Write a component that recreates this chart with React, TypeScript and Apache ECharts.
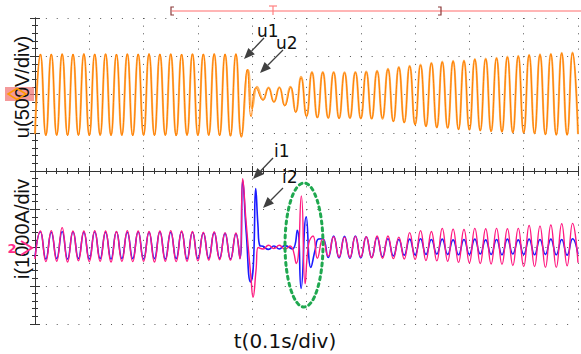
import React, { useEffect, useRef } from "react";
import * as echarts from "echarts";

// sample spacing of the steady-state segments (s): one half-cycle of 50 Hz
const STEP = 0.01;

// ---- u1 / u2 (V), 500 V/div ----
const u1Pre = [-520, 530, -538, 528, -535, 532, -538, 530, -536, 534, -540, 530, -535, 532, -538, 528, -536, 532, -540, 530, -535, 534, -538, 530, -536, 532, -540, 528, -535, 532, -538, 530, -536, 534, -540, 530, -545, 532];
const u1Fault = [[0.38, -560], [0.391, 330], [0.398, -290], [0.407, 90], [0.42, -75], [0.43, 85], [0.44, -100], [0.45, 90], [0.46, -150], [0.471, 95], [0.48, -235], [0.49, 220]];
const u1Post = [-290, 290, -305, 290, -310, 290, -315, 285, -310, 290, -315, 295, -320, 305, -310, 330, -355, 355, -370, 370, -395, 385, -420, 410, -435, 425, -440, 435, -460, 440, -465, 460, -475, 465, -485, 475, -490, 490, -500, 500, -505, 515, -510, 520, -525, 528, -530, 540, -530, 545, -520];

const u2Pre = [-510, 520, -530, 522, -528, 525, -530, 520, -528, 526, -532, 522, -528, 524, -530, 520, -528, 525, -532, 522, -528, 526, -530, 522, -528, 524, -532, 520, -528, 525, -530, 522, -528, 526, -532, 522, -535, 525];
const u2Fault = [[0.38, -545], [0.3925, 320], [0.4, -180], [0.409, 100], [0.42, -65], [0.43, 90], [0.44, -95], [0.45, 95], [0.46, -140], [0.47, 100], [0.48, -225], [0.49, 230]];
const u2Post = [-280, 295, -300, 292, -305, 295, -310, 290, -308, 295, -312, 300, -315, 310, -318, 335, -350, 360, -365, 375, -390, 390, -415, 415, -430, 430, -438, 440, -455, 445, -460, 465, -470, 470, -480, 480, -488, 495, -495, 505, -500, 518, -508, 525, -520, 532, -528, 545, -528, 548, -515];
const U_POST_START = 50;

// ---- i1 / i2 (A), 1000 A/div ----
const i2Pre = [-300, 430, -370, 440, -360, 520, -380, 430, -350, 430, -370, 440, -360, 430, -380, 420, -360, 440, -370, 430, -360, 420, -380, 430, -360, 440, -370, 430, -360, 420, -350, 400, -330, 410, -320, 390];
const i2Fault = [[0.36, -330], [0.37, 380], [0.3775, -300], [0.3825, 1800], [0.3886, 700], [0.3978, -800], [0.4015, -1300], [0.407, -600], [0.411, 0], [0.42, -40], [0.43, 60], [0.44, -30], [0.45, 60], [0.46, -40], [0.47, 40], [0.481, -420], [0.4905, 1350], [0.4975, -950], [0.504, 100], [0.512, 300], [0.52, -280]];
const i2Post = [240, -230, 280, -250, 270, -260, 290, -250, 280, -270, 300, -280, 300, -290, 270, -300, 390, -310, 440, -340, 420, -350, 500, -360, 480, -390, 470, -400, 500, -420, 490, -430, 500, -440, 490, -470, 500, -500, 575, -500, 560, -520, 590, -520, 620, -480, 630, -400];

const i1Pre = [-250, 410, -300, 400, -290, 420, -300, 410, -290, 400, -300, 410, -290, 400, -300, 410, -290, 400, -290, 410, -300, 400, -290, 410, -300, 400, -290, 410, -300, 400, -290, 380, -280, 390, -280, 370];
const i1Fault = [[0.36, -300], [0.37, 360], [0.3775, -280], [0.3825, 1750], [0.389, 400], [0.397, -900], [0.402, -500], [0.4065, 1540], [0.4105, 600], [0.414, 50], [0.42, 30], [0.43, -50], [0.44, 40], [0.45, -40], [0.46, 50], [0.474, -40], [0.483, 450], [0.49, -1070], [0.4995, 800], [0.508, -520], [0.516, -60], [0.522, 220]];
const i1Post = [230, -260, 300, -270, 290, -280, 300, -270, 280, -260, 260, -240, 230, -220, 210, -200, 220, -190, 230, -180, 210, -170, 220, -180, 200, -190, 210, -180, 220, -170, 200, -180, 210, -190, 220, -170, 200, -180, 220, -190, 210, -180, 220, -190, 210, -200, 230, -180];
const I_POST_START = 53;

const X_LABEL = "t(0.1s/div)";
const U_LABEL = "u(500V/div)";
const I_LABEL = "i(1000A/div";

function build(pre: number[], fault: number[][], post: number[], postStart: number) {
  return [
    ...pre.map((v, k) => [+(k * STEP).toFixed(4), v]),
    ...fault,
    ...post.map((v, j) => [+((postStart + j) * STEP).toFixed(4), v]),
  ];
}

function arrow(x1: number, y1: number, x2: number, y2: number) {
  const dx = x2 - x1, dy = y2 - y1;
  const L = Math.hypot(dx, dy);
  const ux = dx / L, uy = dy / L;
  const hl = 11, hw = 4.5;
  const bx = x2 - ux * hl, by = y2 - uy * hl;
  return [
    { type: "line", z: 100, shape: { x1, y1, x2: bx, y2: by }, style: { stroke: "#404040", lineWidth: 1.3 } },
    {
      type: "polygon", z: 100,
      shape: { points: [[x2, y2], [bx - uy * hw, by + ux * hw], [bx + uy * hw, by - ux * hw]] },
      style: { fill: "#404040" },
    },
  ];
}

const tickCommon = {
  axisLine: { show: true, lineStyle: { color: "#333", width: 1 } },
  axisTick: { show: true, inside: true, length: 5, lineStyle: { color: "#333" } },
  minorTick: { show: true, splitNumber: 5, length: 3, lineStyle: { color: "#333" } },
  axisLabel: { show: false },
};

export default function App() {
  const ref = useRef<HTMLDivElement>(null);
  useEffect(() => {
    const chart = echarts.init(ref.current!, null, { renderer: "svg" });
    const option: any = {
      animation: false,
      backgroundColor: "#fff",
      grid: { left: 35, top: 18, width: 543, height: 306 },
      xAxis: [
        {
          type: "value", min: 0, max: 1, interval: 0.1, position: "bottom", ...tickCommon,
          splitLine: { show: true, lineStyle: { color: "#555", width: 1, type: [1, 6.65] } },
        },
        { type: "value", min: 0, max: 1, interval: 0.1, position: "top", ...tickCommon, splitLine: { show: false } },
      ],
      yAxis: [
        {
          type: "value", min: -4, max: 4, interval: 1, position: "left", ...tickCommon,
          splitLine: { show: true, lineStyle: { color: "#555", width: 1, type: [1, 9.86] } },
        },
        { type: "value", min: -4, max: 4, interval: 1, position: "right", ...tickCommon, splitLine: { show: false } },
        { type: "value", min: -3000, max: 1000, show: false, splitLine: { show: false } },
        { type: "value", min: -2000, max: 6000, show: false, splitLine: { show: false } },
      ],
      series: [
        { name: "u2", type: "line", xAxisIndex: 0, yAxisIndex: 2, data: build(u2Pre, u2Fault, u2Post, U_POST_START), showSymbol: false, smooth: 0.5, lineStyle: { color: "#ffb45e", width: 2.1 } },
        { name: "u1", type: "line", xAxisIndex: 0, yAxisIndex: 2, data: build(u1Pre, u1Fault, u1Post, U_POST_START), showSymbol: false, smooth: 0.5, lineStyle: { color: "#ff7f00", width: 1 } },
        { name: "i1", type: "line", xAxisIndex: 0, yAxisIndex: 3, data: build(i1Pre, i1Fault, i1Post, I_POST_START), showSymbol: false, smooth: 0.5, lineStyle: { color: "#1a1aff", width: 1.6 } },
        { name: "i2", type: "line", xAxisIndex: 0, yAxisIndex: 3, data: build(i2Pre, i2Fault, i2Post, I_POST_START), showSymbol: false, smooth: 0.5, lineStyle: { color: "#ff1a80", width: 1.4 } },
      ],
      graphic: [
        // record bar on top
        { type: "line", z: 100, shape: { x1: 172, y1: 11, x2: 581, y2: 11 }, style: { stroke: "#ff9c9c", lineWidth: 1.5 } },
        { type: "polyline", z: 100, shape: { points: [[174, 7], [171, 7], [171, 15], [174, 15]] }, style: { stroke: "#8b3a3a", lineWidth: 1.2, fill: null } },
        { type: "polyline", z: 100, shape: { points: [[438, 7], [441, 7], [441, 15], [438, 15]] }, style: { stroke: "#8b3a3a", lineWidth: 1.2, fill: null } },
        { type: "polyline", z: 100, shape: { points: [[269, 6], [277, 6]] }, style: { stroke: "#ff8080", lineWidth: 1.2, fill: null } },
        { type: "line", z: 100, shape: { x1: 273, y1: 6, x2: 273, y2: 15 }, style: { stroke: "#ff8080", lineWidth: 1.2 } },
        // channel markers
        { type: "rect", z: 98, shape: { x: 5, y: 87, width: 29, height: 14 }, style: { fill: "#f07878", opacity: 0.75 } },
        // axis titles
        { type: "text", z: 99, x: 22, y: 87, rotation: Math.PI / 2, style: { text: U_LABEL, fill: "#111", font: "20px 'Liberation Sans'", align: "center", verticalAlign: "middle" } },
        { type: "text", z: 99, x: 22, y: 229, rotation: Math.PI / 2, style: { text: I_LABEL, fill: "#111", font: "20px 'Liberation Sans'", align: "center", verticalAlign: "middle" } },
        { type: "text", z: 100, x: 285, y: 341, style: { text: X_LABEL, fill: "#111", font: "20px 'DejaVu Sans'", align: "center", verticalAlign: "middle" } },
        { type: "polygon", z: 101, shape: { points: [[8, 94], [17, 88.5], [26, 94], [17, 99.5]] }, style: { stroke: "#ff9900", lineWidth: 1.5, fill: null } },
        { type: "polyline", z: 101, shape: { points: [[21, 241], [32, 248], [21, 255]] }, style: { stroke: "#ff2a8a", lineWidth: 2, fill: null } },
        { type: "text", z: 101, x: 12, y: 248, style: { text: "2", fill: "#ff2a8a", font: "bold 13px 'DejaVu Sans'", align: "center", verticalAlign: "middle" } },
        // annotations
        { type: "text", z: 100, x: 257, y: 31, style: { text: "u1", fill: "#111", font: "17px 'DejaVu Sans'", align: "left", verticalAlign: "middle" } },
        { type: "text", z: 100, x: 276, y: 43, style: { text: "u2", fill: "#111", font: "17px 'DejaVu Sans'", align: "left", verticalAlign: "middle" } },
        { type: "text", z: 100, x: 274, y: 151, style: { text: "i1", fill: "#111", font: "17px 'DejaVu Sans'", align: "left", verticalAlign: "middle" } },
        { type: "text", z: 100, x: 282, y: 177, style: { text: "i2", fill: "#111", font: "17px 'DejaVu Sans'", align: "left", verticalAlign: "middle" } },
        ...arrow(264, 38, 244, 59),
        ...arrow(283, 50, 260, 73),
        ...arrow(273, 158, 253, 179),
        ...arrow(283, 188, 263, 208),
        // highlighted region
        { type: "ellipse", z: 100, shape: { cx: 304, cy: 245, rx: 19, ry: 62 }, style: { fill: null, stroke: "#1fa84f", lineWidth: 3, lineDash: [3, 4], lineCap: "round" } },
      ],
    };
    chart.setOption(option);
    return () => chart.dispose();
  }, []);
  return <div ref={ref} style={{ position: "absolute", left: 0, top: 0, width: 581, height: 354 }} />;
}
